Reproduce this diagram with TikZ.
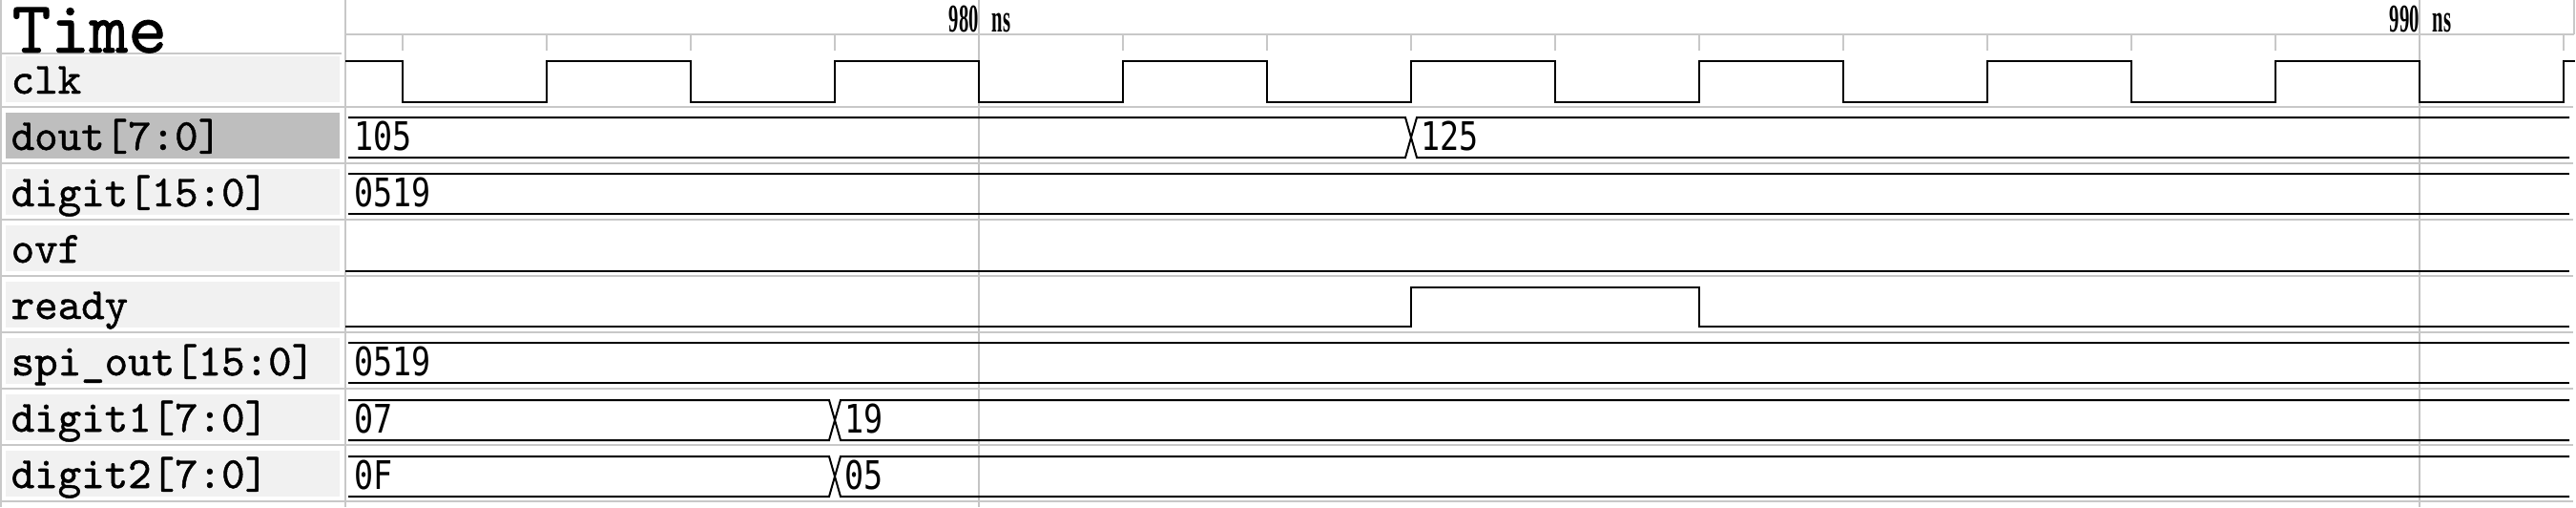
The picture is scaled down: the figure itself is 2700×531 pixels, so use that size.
\documentclass[tikz,border=0pt]{standalone}
\usepackage{fontspec}
\newfontfamily\lblfont[FakeBold=1]{lmmono10-regular.otf}
\newfontfamily\valfont[FakeStretch=0.81]{DejaVu Sans Mono}
\newfontfamily\axfont[FakeStretch=0.5]{Liberation Serif Bold}
\definecolor{sepgray}{HTML}{C8C8C8}
\definecolor{gridgray}{HTML}{C4C4C4}
\definecolor{boxgray}{HTML}{F1F1F1}
\definecolor{selgray}{HTML}{BEBEBE}
\tikzset{
  sepline/.style={draw=sepgray, line width=0.6pt},
  gridline/.style={draw=gridgray, line width=0.6pt},
  tickline/.style={draw=sepgray, line width=0.6pt},
  waveline/.style={draw=black, line width=0.6pt, line join=miter},
  lbox/.style={fill=boxgray},
  selbox/.style={fill=selgray},
  lbl/.style={anchor=base west, inner sep=0pt, font=\lblfont\fontsize{14}{14}\selectfont},
  ttl/.style={anchor=base west, inner sep=0pt, font=\lblfont\fontsize{23.2}{23.2}\selectfont},
  val/.style={anchor=base west, inner sep=0pt, font=\valfont\fontsize{12.35}{12.35}\selectfont},
  axlbl/.style={anchor=base, inner sep=0pt, font=\axfont\fontsize{12.4}{12.4}\selectfont},
}
\begin{document}
\begin{tikzpicture}[x=0.3pt,y=-0.3pt]
\useasboundingbox (0,0) rectangle (2700,531);
\fill[white] (0,0) rectangle (2700,531);
% label boxes
\fill[lbox] (6,59) rectangle (356,107);
\fill[selbox] (6,118) rectangle (356,166);
\foreach \s in {171,230,289,348,407,466} {
  \fill[lbox] (6,\s+6) rectangle (356,\s+54);
}
% grid lines
\draw[gridline] (1026,0) -- (1026,531);
\draw[gridline] (2536,0) -- (2536,531);
% frame lines
\draw[sepline] (1,0) -- (1,531);
\draw[sepline] (362,0) -- (362,531);
\draw[sepline] (2698,0) -- (2698,36);
\draw[sepline] (362,36) -- (2698,36);
\draw[sepline] (0,56) -- (358,56);
\foreach \s in {112,171,230,289,348,407,466,525} {
  \draw[sepline] (0,\s) -- (2697,\s);
}
% ticks
\foreach \t in {976,977,978,979,981,982,983,984,985,986,987,988,989,991} {
  \draw[tickline] ({1026+(\t-980)*151},36) -- ++(0,17);
}
% axis labels
\node[axlbl] (t980) at (1027,33) {980\hspace{4.1pt}ns};
\node[axlbl] (t990) at (2537,33) {990\hspace{4.1pt}ns};
% names
\node[ttl] (time) at (12,55) {Time};
\node[lbl] (lclk) at (11,98) {clk};
\node[lbl] (ldout) at (11,157) {dout[7:0]};
\node[lbl] (ldigit) at (11,216) {digit[15:0]};
\node[lbl] (lovf) at (11,275) {ovf};
\node[lbl] (lready) at (11,334) {ready};
\node[lbl] (lspi) at (11,393) {spi{\char`\_}out[15:0]};
\node[lbl] (ldigita) at (11,452) {digit1[7:0]};
\node[lbl] (ldigitb) at (11,511) {digit2[7:0]};
% clk
\draw[waveline] (362,64) -- (422,64) -- (422,107) -- (573,107) -- (573,64) -- (724,64) -- (724,107) -- (875,107) -- (875,64) -- (1026,64) -- (1026,107) -- (1177,107) -- (1177,64) -- (1328,64) -- (1328,107) -- (1479,107) -- (1479,64) -- (1630,64) -- (1630,107) -- (1781,107) -- (1781,64) -- (1932,64) -- (1932,107) -- (2083,107) -- (2083,64) -- (2234,64) -- (2234,107) -- (2385,107) -- (2385,64) -- (2536,64) -- (2536,107) -- (2687,107) -- (2687,64) -- (2699,64);
% dout
\draw[waveline] (365,123) -- (1473,123) -- (1485,165) -- (2693,165);
\draw[waveline] (365,165) -- (1473,165) -- (1485,123) -- (2693,123);
\node[val] (vdouta) at (371,157) {105};
\node[val] (vdoutb) at (1489,157) {125};
% digit
\draw[waveline] (365,182) -- (2693,182);
\draw[waveline] (365,224) -- (2693,224);
\node[val] (vdigit) at (371,216) {0519};
% ovf
\draw[waveline] (362,284) -- (2693,284);
% ready
\draw[waveline] (362,342) -- (1479,342) -- (1479,301) -- (1781,301) -- (1781,342) -- (2693,342);
% spi_out
\draw[waveline] (365,359) -- (2693,359);
\draw[waveline] (365,401) -- (2693,401);
\node[val] (vspi) at (371,393) {0519};
% digit1
\draw[waveline] (365,419) -- (869,419) -- (881,461) -- (2693,461);
\draw[waveline] (365,461) -- (869,461) -- (881,419) -- (2693,419);
\node[val] (vda) at (371,453) {07};
\node[val] (vdb) at (885,453) {19};
% digit2
\draw[waveline] (365,478) -- (869,478) -- (881,520) -- (2693,520);
\draw[waveline] (365,520) -- (869,520) -- (881,478) -- (2693,478);
\node[val] (vdc) at (371,512) {0F};
\node[val] (vdd) at (885,512) {05};
\end{tikzpicture}
\end{document}
